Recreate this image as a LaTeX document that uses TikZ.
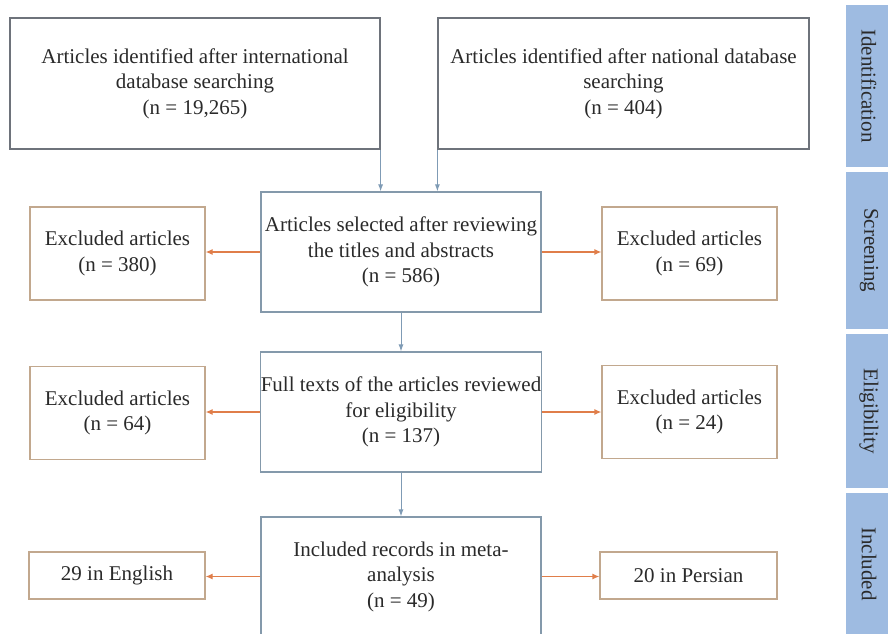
\documentclass[tikz,border=0pt]{standalone}
\usepackage{fontspec}
\setmainfont{Liberation Serif}
\usetikzlibrary{arrows.meta}
\definecolor{boxgray}{HTML}{6E737B}
\definecolor{boxblue}{HTML}{8499AB}
\definecolor{boxtan}{HTML}{C2A88E}
\definecolor{arrblue}{HTML}{7F9BB5}
\definecolor{arrorange}{HTML}{E07E4A}
\definecolor{barblue}{HTML}{9EBBE1}
\definecolor{txt}{HTML}{2A2A2A}

\begin{document}
\begin{tikzpicture}[x=1pt,y=-1pt,font=\fontsize{21}{25.5}\selectfont,
      box/.style={draw,line width=1.2pt,align=center,inner sep=0pt,text=txt},
      arrdown/.style={arrblue,line width=1pt,-{Latex[length=7pt,width=5pt]}},
      arrside/.style={arrorange,line width=1.2pt,-{Latex[length=7pt,width=6pt]}}]
      \useasboundingbox (0,0) rectangle (888,633);
      \fill[barblue] (846,5) rectangle (892,167);
      \fill[barblue] (846,172) rectangle (892,329);
      \fill[barblue] (846,334) rectangle (892,488);
      \fill[barblue] (846,493) rectangle (892,640);
      \node[rotate=-90,text=txt] (ident) at (869,86) {Identification};
      \node[rotate=-90,text=txt] (screen) at (869,250) {Screening};
      \node[rotate=-90,text=txt] (elig) at (869,411) {Eligibility};
      \node[rotate=-90,text=txt] (incl) at (869,564) {Included};
      \node[box,draw=boxgray,minimum width=370,minimum height=131] (intl) at (195,83.5) {Articles identified after international\\database searching\\(n = 19,265)};
      \node[box,draw=boxgray,minimum width=371,minimum height=131] (natl) at (623.5,83.5) {Articles identified after national database\\searching\\(n = 404)};
      \node[box,draw=boxblue,minimum width=280,minimum height=120] (sel) at (401,252) {Articles selected after reviewing\\the titles and abstracts\\(n = 586)};
      \node[box,draw=boxblue,minimum width=280,minimum height=120] (full) at (401,412) {Full texts of the articles reviewed\\for eligibility\\(n = 137)};
      \node[box,draw=boxblue,minimum width=280,minimum height=119] (meta) at (401,576.5) {Included records in meta-\\analysis\\(n = 49)};
      \node[box,draw=boxtan,minimum width=175,minimum height=93] (exsl) at (117.5,253.5) {Excluded articles\\(n = 380)};
      \node[box,draw=boxtan,minimum width=175,minimum height=93] (exsr) at (689.5,253.5) {Excluded articles\\(n = 69)};
      \node[box,draw=boxtan,minimum width=175,minimum height=93] (exfl) at (117.5,413) {Excluded articles\\(n = 64)};
      \node[box,draw=boxtan,minimum width=175,minimum height=93] (exfr) at (689.5,412) {Excluded articles\\(n = 24)};
      \node[box,draw=boxtan,minimum width=176,minimum height=47] (eng) at (117,575.5) {29 in English};
      \node[box,draw=boxtan,minimum width=177,minimum height=47] (per) at (688.5,575.5) {20 in Persian};
      \draw[arrdown] (intl.south east) -- (intl.south east |- sel.north);
      \draw[arrdown] (natl.south west) -- (natl.south west |- sel.north);
      \draw[arrdown] (sel.south) -- (full.north);
      \draw[arrdown] (full.south) -- (meta.north);
      \draw[arrside] (sel.west) -- (sel.west -| exsl.east);
      \draw[arrside] (sel.east) -- (sel.east -| exsr.west);
      \draw[arrside] (full.west) -- (full.west -| exfl.east);
      \draw[arrside] (full.east) -- (full.east -| exfr.west);
      \draw[arrside] (meta.west) -- (meta.west -| eng.east);
      \draw[arrside] (meta.east) -- (meta.east -| per.west);
    \end{tikzpicture}
\end{document}
